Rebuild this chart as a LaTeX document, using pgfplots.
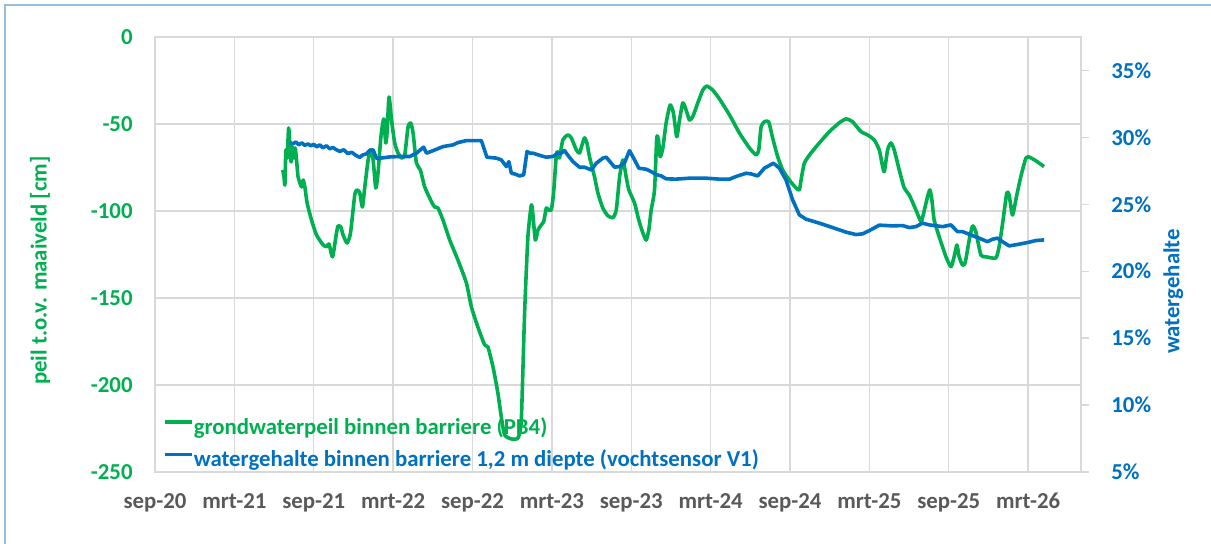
\documentclass[border=0pt]{standalone}
\usepackage{pgfplots}
\pgfplotsset{compat=1.18}
\usepackage{fontspec}
\setmainfont{Carlito}
\definecolor{pgreen}{RGB}{0,176,80}
\definecolor{pblue}{RGB}{0,112,192}
\definecolor{tgray}{RGB}{89,89,89}
\definecolor{gridc}{RGB}{217,217,217}
\definecolor{framec}{RGB}{150,190,225}
\newcommand{\cf}{\fontsize{11.4}{13.7}\selectfont\bfseries}
\begin{document}
\begin{tikzpicture}
\path[use as bounding box] (0,0) rectangle (605.5pt,272pt);
\draw[framec, line width=0.6pt] (2.5pt,0) -- (2.5pt,269.5pt) -- (605.5pt,269.5pt);
\begin{axis}[
  at={(77.5pt,36pt)}, anchor=south west, scale only axis,
  width=463pt, height=217.5pt,
  xmin=0, xmax=70, ymin=-250, ymax=0,
  xtick={0,6,...,66},
  xticklabels={sep-20,mrt-21,sep-21,mrt-22,sep-22,mrt-23,sep-23,mrt-24,sep-24,mrt-25,sep-25,mrt-26},
  ytick={-250,-200,-150,-100,-50,0},
  yticklabels={-250,-200,-150,-100,-50,0},
  grid=major, major grid style={gridc, line width=0.65pt},
  axis line style={gridc, line width=0.65pt},
  tick style={draw=none},
  xticklabel style={font=\cf, text=tgray, anchor=base, yshift=-18.4pt, inner sep=0pt},
  yticklabel style={font=\cf, text=pgreen, anchor=east, xshift=-11pt, inner sep=0pt},
  ylabel={peil t.o.v. maaiveld [cm]},
  ylabel style={at={(axis description cs:-0.124,0.463)}, anchor=center, font=\cf, text=pgreen},
]
\addplot[pgreen, line width=1.8pt, line join=round, smooth, tension=0.35] coordinates {
(9.64,-76.4) (9.74,-79.3) (9.82,-85.1) (9.89,-64.9) (9.99,-69.5) (10.10,-52.3) (10.19,-60.9) (10.29,-71.8) (10.40,-63.2) (10.50,-69.5) (10.60,-63.8) (10.70,-70.7) (10.82,-80.5) (11.08,-86.2) (11.20,-82.2) (11.33,-86.2) (11.50,-95.4) (11.83,-105.2) (12.21,-113.8) (12.71,-119.5) (12.97,-120.5) (13.16,-119.0) (13.42,-126.4) (13.72,-112.6) (13.84,-108.6) (14.05,-109.2) (14.22,-113.8) (14.52,-118.4) (14.78,-112.6) (15.10,-90.8) (15.28,-87.9) (15.48,-89.6) (15.68,-97.7) (15.86,-86.2) (16.11,-70.7) (16.29,-64.9) (16.49,-70.7) (16.69,-86.8) (16.86,-78.2) (17.07,-58.0) (17.29,-47.1) (17.44,-60.9) (17.54,-55.2) (17.69,-34.5) (17.88,-47.7) (18.12,-60.9) (18.37,-66.7) (18.63,-69.5) (18.88,-67.8) (19.13,-51.7) (19.33,-49.4) (19.51,-55.2) (19.76,-72.4) (20.06,-76.4) (20.39,-86.2) (20.90,-94.7) (21.14,-97.7) (21.39,-98.3) (21.77,-105.2) (22.28,-116.7) (22.90,-128.2) (23.54,-141.4) (23.92,-155.2) (24.41,-166.7) (24.92,-177.0) (25.17,-178.2) (25.55,-189.6) (25.92,-204.6) (26.18,-218.4) (26.43,-228.7) (26.94,-231.0) (27.44,-230.4) (27.69,-220.1) (27.94,-158.6) (28.19,-114.9) (28.45,-96.5) (28.57,-102.3) (28.75,-116.7) (28.95,-110.9) (29.20,-108.0) (29.38,-106.3) (29.58,-98.3) (29.75,-99.4) (29.96,-99.4) (30.13,-89.6) (30.34,-67.8) (30.46,-66.1) (30.58,-69.5) (30.83,-59.2) (31.21,-56.3) (31.47,-58.0) (31.85,-64.9) (32.09,-66.7) (32.28,-62.1) (32.47,-58.0) (32.65,-60.9) (32.85,-69.0) (33.23,-80.5) (33.48,-89.6) (33.85,-98.3) (34.23,-102.7) (34.61,-103.9) (34.87,-99.4) (35.12,-80.5) (35.37,-70.7) (35.62,-80.5) (35.82,-87.9) (36.25,-95.4) (36.57,-105.2) (36.88,-112.6) (37.13,-116.7) (37.33,-110.9) (37.51,-99.4) (37.76,-87.9) (37.93,-58.0) (38.06,-59.2) (38.19,-68.8) (38.39,-63.8) (38.64,-49.4) (38.94,-39.1) (39.19,-43.7) (39.44,-57.3) (39.65,-47.7) (39.90,-37.9) (40.15,-42.0) (40.40,-47.7) (40.65,-45.8) (41.03,-37.9) (41.41,-30.5) (41.71,-28.2) (42.16,-30.5) (42.67,-35.6) (43.43,-44.8) (44.18,-55.2) (44.94,-63.8) (45.44,-67.8) (45.64,-64.9) (45.82,-51.6) (46.07,-48.7) (46.39,-48.7) (46.69,-58.0) (47.07,-68.8) (47.45,-76.4) (47.95,-82.2) (48.46,-86.8) (48.71,-87.9) (48.84,-82.2) (49.09,-72.4) (49.59,-66.7) (50.22,-60.9) (50.98,-54.4) (51.73,-49.3) (52.24,-47.1) (52.73,-48.7) (53.37,-54.4) (53.87,-56.3) (54.37,-59.2) (54.75,-64.9) (54.95,-72.4) (55.13,-77.4) (55.38,-64.9) (55.63,-60.9) (55.88,-64.9) (56.26,-76.4) (56.64,-86.8) (57.02,-90.8) (57.52,-99.4) (57.90,-106.1) (58.07,-102.3) (58.40,-91.8) (58.58,-87.9) (58.73,-93.7) (58.90,-105.2) (59.28,-114.8) (59.79,-126.3) (60.17,-132.0) (60.41,-126.3) (60.62,-119.5) (60.79,-126.4) (61.04,-131.0) (61.24,-129.9) (61.55,-116.7) (61.80,-108.6) (62.05,-111.9) (62.43,-125.3) (62.81,-126.3) (63.56,-127.0) (63.81,-120.5) (64.11,-105.2) (64.39,-89.6) (64.57,-90.8) (64.82,-102.3) (65.12,-91.8) (65.45,-80.3) (65.83,-69.7) (66.08,-69.0) (66.58,-71.1) (67.21,-74.5)
};
\end{axis}
\begin{axis}[
  at={(77.5pt,36pt)}, anchor=south west, scale only axis,
  width=463pt, height=217.5pt,
  xmin=0, xmax=70, ymin=5, ymax=37.5,
  axis x line=none, axis y line*=right,
  axis line style={gridc, line width=0.65pt},
  ytick={5,10,15,20,25,30,35},
  yticklabels={5\%,10\%,15\%,20\%,25\%,30\%,35\%},
  tick align=outside, major tick length=4pt,
  ytick style={gridc, line width=0.65pt},
  yticklabel style={font=\cf, text=pblue, anchor=west, xshift=11pt, inner sep=0pt},
  ylabel={watergehalte},
  ylabel style={at={(axis description cs:1.0997,0.415)}, anchor=center, rotate=0, font=\cf, text=pblue},
  legend style={at={(axis description cs:0,0)}, anchor=south west, xshift=3.9pt, yshift=0pt,
    draw=none, fill=none, inner sep=0pt, row sep=5.6pt, column sep=0pt, font=\cf,
    nodes={inner sep=0pt, text height=8pt, text depth=2.5pt}},
  legend cell align=left,
  legend image code/.code={\draw[#1] (0pt,3.3pt) -- (13.5pt,3.3pt);},
]
\addlegendimage{pgreen, line width=1.8pt}
\addlegendentry{\textcolor{pgreen}{grondwaterpeil binnen barriere (PB4)}}
\addplot[pblue, line width=1.8pt, line join=round] coordinates {
(10.19,29.61) (10.42,29.51) (10.65,29.66) (10.87,29.44) (11.10,29.59) (11.33,29.40) (11.55,29.51) (11.78,29.37) (12.01,29.48) (12.23,29.29) (12.46,29.44) (12.69,29.22) (12.97,29.37) (13.22,29.14) (13.44,29.25) (13.72,29.07) (13.97,28.95) (14.27,29.07) (14.57,28.80) (14.88,28.88) (15.18,28.66) (15.48,28.51) (15.71,28.69) (15.99,28.77) (16.24,29.03) (16.49,29.07) (16.74,28.43) (17.24,28.47) (17.75,28.54) (18.50,28.57) (19.26,28.57) (19.76,28.82) (20.31,29.27) (20.52,28.82) (21.02,29.01) (21.77,29.31) (22.53,29.44) (22.90,29.61) (23.54,29.76) (24.67,29.76) (25.09,28.52) (25.80,28.45) (26.18,28.32) (26.56,27.82) (26.75,28.19) (26.94,27.32) (27.19,27.27) (27.56,27.12) (27.87,27.20) (28.12,28.94) (28.37,28.82) (28.57,28.82) (29.20,28.62) (29.58,28.52) (30.08,28.57) (30.46,28.82) (30.71,28.82) (30.96,29.01) (31.19,28.69) (31.59,28.19) (32.09,27.77) (32.47,27.77) (32.98,27.57) (33.36,28.07) (33.86,28.45) (34.11,28.52) (34.49,28.07) (34.74,27.77) (35.12,27.82) (35.50,28.12) (35.87,29.01) (36.25,28.32) (36.57,27.70) (37.13,27.62) (37.51,27.44) (37.89,27.22) (38.27,27.12) (38.64,26.90) (39.40,26.88) (40.40,26.95) (41.66,26.95) (42.67,26.88) (43.43,26.88) (44.05,27.12) (44.69,27.32) (45.06,27.27) (45.56,27.12) (46.07,27.70) (46.75,28.07) (47.20,27.70) (47.70,26.82) (48.20,25.33) (48.71,24.21) (49.21,23.89) (50.22,23.59) (51.22,23.26) (52.24,22.92) (52.99,22.74) (53.49,22.79) (53.99,23.03) (54.75,23.44) (55.75,23.39) (56.51,23.41) (57.02,23.26) (57.52,23.33) (58.02,23.59) (58.53,23.46) (59.53,23.33) (60.17,23.46) (60.66,22.96) (61.04,22.96) (61.68,22.71) (62.30,22.47) (62.93,22.21) (63.31,22.39) (63.68,22.47) (64.06,22.21) (64.57,21.89) (65.32,22.02) (66.08,22.17) (66.58,22.29) (67.21,22.34)
};
\addlegendentry{\textcolor{pblue}{watergehalte binnen barriere 1,2 m diepte (vochtsensor V1)}}
\end{axis}
\end{tikzpicture}
\end{document}
